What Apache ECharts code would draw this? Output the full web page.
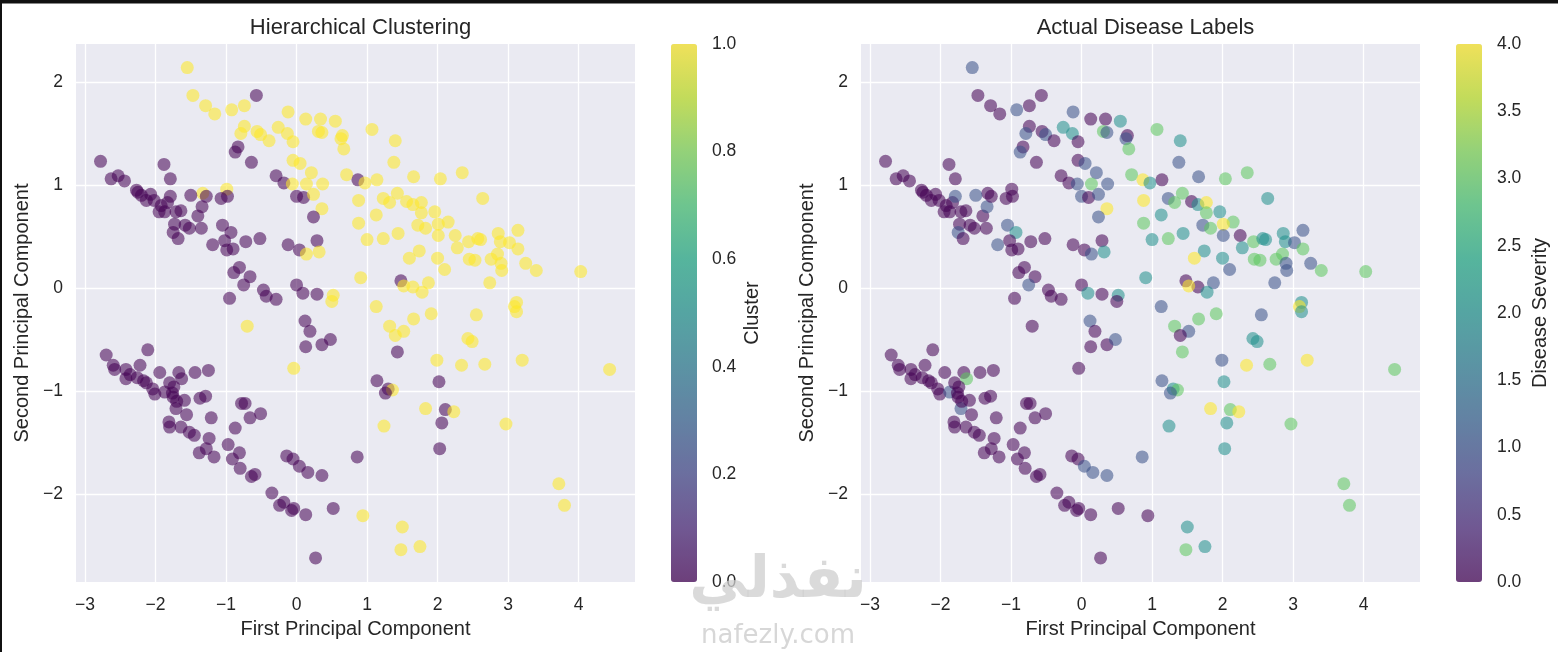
<!DOCTYPE html>
<html>
<head>
<meta charset="utf-8">
<script src="https://cdn.jsdelivr.net/npm/echarts@6/dist/echarts.min.js"></script>
<style>
html,body{margin:0;padding:0;background:#fff;}
#chart{width:1558px;height:652px;}
</style>
</head>
<body>
<div id="chart"></div>
<script>
// First principal component (x), second principal component (y)
const pcX = [
-1.55,-1.47,-1.29,-1.16,-0.92,-0.74,-0.57,-0.12,0.13,0.34,0.55,0.31,0.36,0.65,0.63,0.67,-0.26,-0.13,-0.05,-0.74,
-0.79,-0.56,-0.51,-0.39,-0.83,-0.87,-0.64,-0.05,0.05,0.21,-0.29,-0.18,-0.06,0.14,0.37,0.00,0.10,0.24,0.36,0.24,
0.71,-2.78,-2.63,-2.53,-2.44,-2.27,-2.20,-2.07,-2.02,-2.13,-1.92,-1.83,-1.79,-1.71,-1.64,-1.73,-1.75,-1.68,-1.52,-1.58,
-1.35,-1.40,-1.34,-1.33,-1.28,-1.50,-1.79,-1.88,-1.87,-2.25,-1.95,-0.99,-1.07,-0.98,-1.05,-0.93,-1.19,-1.02,-0.99,-0.90,
-0.72,-0.52,-0.12,0.04,0.14,0.29,0.32,-0.81,-0.89,-0.66,-0.75,-0.47,-0.43,-0.29,-0.95,0.00,0.09,0.29,0.52,0.50,
1.07,1.40,1.38,1.66,2.04,2.35,0.87,0.97,1.14,0.88,1.23,1.43,1.32,1.56,1.65,1.77,1.77,1.96,2.15,2.01,
1.72,1.83,2.01,2.25,2.64,1.13,0.88,1.00,1.23,1.44,1.74,1.60,2.00,2.10,2.28,2.44,2.57,2.61,2.45,2.53,
2.86,2.89,3.02,3.14,3.14,2.76,2.85,2.90,2.91,3.25,3.40,4.03,2.74,0.91,1.48,1.65,1.52,1.87,1.78,1.13,
3.12,3.09,3.12,1.66,1.91,2.55,1.32,1.52,1.40,1.43,2.43,2.49,1.99,2.34,2.67,3.20,4.44,1.14,1.30,1.36,
1.26,2.02,1.83,2.11,2.23,2.06,1.24,2.97,2.03,0.86,3.72,3.80,0.94,1.50,1.75,1.48,
-2.70,-2.60,-2.58,-2.11,-2.42,-2.42,-2.26,-2.22,-2.17,-2.13,-2.04,-2.01,-1.94,-1.87,-1.80,-1.67,-1.63,-1.74,-1.75,-1.71,
-1.59,-1.56,-1.44,-1.25,-1.37,-1.29,-1.21,-1.81,-1.80,-1.64,-1.52,-1.45,-1.24,-1.28,-1.38,-1.17,-0.97,-0.87,-0.78,-0.73,
-0.66,-0.51,-0.81,-0.91,-0.80,-0.64,-0.59,-0.35,-0.24,-0.18,-0.07,-0.04,0.13,0.52,0.27,-0.70,-0.04,0.12,0.19,0.13,
0.36,0.48,-0.14,-0.05,0.04,0.16,0.36,-1.76,-1.70,-2.36
];
const pcY = [
2.14,1.87,1.77,1.69,1.73,1.77,1.87,1.71,1.64,1.64,1.62,1.52,1.51,1.48,1.45,1.35,1.56,1.50,1.42,1.57,
1.50,1.52,1.49,1.43,1.37,1.32,1.22,1.24,1.21,1.12,1.09,1.02,1.01,1.01,1.01,0.89,0.88,0.91,0.77,0.69,
1.10,1.23,1.06,1.09,1.04,0.95,0.90,0.91,0.85,0.85,0.80,0.83,0.89,0.74,0.75,0.62,0.54,0.48,0.58,0.61,
0.58,0.70,0.79,0.92,0.89,0.90,1.06,1.20,0.74,0.93,0.74,0.96,0.87,0.89,0.61,0.54,0.42,0.46,0.37,0.38,
0.45,0.48,0.42,0.37,0.33,0.46,0.35,0.20,0.15,0.11,0.03,-0.02,-0.08,-0.11,-0.10,0.03,-0.05,-0.06,-0.07,-0.13,
1.54,1.43,1.22,1.08,1.06,1.12,1.05,1.02,1.05,0.85,0.87,0.92,0.83,0.84,0.81,0.83,0.73,0.74,0.64,0.62,
0.61,0.58,0.51,0.51,0.87,0.71,0.63,0.47,0.48,0.53,0.36,0.29,0.29,0.18,0.39,0.45,0.48,0.47,0.28,0.27,
0.53,0.45,0.44,0.56,0.38,0.28,0.33,0.24,0.17,0.24,0.17,0.16,0.05,0.10,0.07,0.01,0.02,0.05,-0.04,-0.18,
-0.14,-0.18,-0.23,-0.30,-0.25,-0.26,-0.37,-0.42,-0.46,-0.62,-0.49,-0.52,-0.70,-0.75,-0.74,-0.70,-0.79,-0.90,-0.98,-0.99,
-1.02,-0.91,-1.17,-1.18,-1.20,-1.31,-1.34,-1.32,-1.56,-1.64,-1.90,-2.11,-2.21,-2.32,-2.51,-2.54,
-0.65,-0.75,-0.79,-0.60,-0.79,-0.88,-0.87,-0.75,-0.90,-0.92,-0.98,-1.03,-0.82,-1.01,-0.92,-0.82,-0.88,-0.96,-1.06,-1.17,
-1.09,-1.23,-0.82,-0.80,-1.07,-1.05,-1.26,-1.30,-1.35,-1.35,-1.40,-1.43,-1.46,-1.56,-1.60,-1.64,-1.52,-1.36,-1.12,-1.12,
-1.26,-1.22,-1.60,-1.66,-1.75,-1.83,-1.81,-1.99,-2.11,-2.08,-2.16,-2.14,-2.20,-2.14,-2.62,-0.37,-0.78,-0.32,-0.42,-0.57,
-0.55,-0.50,-1.63,-1.66,-1.73,-1.79,-1.82,-1.02,-1.10,-0.84
];
// Hierarchical clustering label (0 / 1)
const clusterLabel = [
1,1,1,1,1,1,0,1,1,1,1,1,1,1,1,1,1,1,1,1,
1,1,1,1,0,0,0,1,1,1,0,0,1,1,1,0,0,1,1,0,
1,0,0,0,0,0,0,0,0,0,0,0,0,0,0,0,0,0,0,0,
0,0,0,1,0,0,0,0,0,0,0,1,0,0,0,0,0,0,0,0,
0,0,0,0,1,0,1,0,0,0,0,0,0,0,0,0,0,0,1,1,
1,1,1,1,1,1,0,1,1,1,1,1,1,1,1,1,1,1,1,1,
1,1,1,1,1,1,1,1,1,1,1,1,1,1,1,1,1,1,1,1,
1,1,1,1,1,1,1,1,1,1,1,1,1,1,0,1,1,1,1,1,
1,1,1,1,1,1,1,1,1,0,1,1,1,1,1,1,1,0,0,1,
0,0,1,0,1,0,1,1,0,0,1,1,1,1,1,1,
0,0,0,0,0,0,0,0,0,0,0,0,0,0,0,0,0,0,0,0,
0,0,0,0,0,0,0,0,0,0,0,0,0,0,0,0,0,0,0,0,
0,0,0,0,0,0,0,0,0,0,0,0,0,0,0,1,1,0,0,0,
0,0,0,0,0,0,0,0,0,0
];
// Actual disease severity (0 - 4)
const severity = [
1,0,0,0,1,0,0,1,0,0,2,3,1,0,1,3,2,2,0,0,
1,0,1,0,0,1,0,0,1,1,0,0,1,3,1,1,0,1,4,1,
3,0,0,0,0,0,0,0,0,0,0,0,1,0,0,0,1,0,0,0,
0,0,1,0,0,1,0,0,0,0,0,0,0,0,1,2,1,0,0,0,
0,0,0,0,1,0,2,0,0,0,1,0,0,0,0,0,2,0,2,0,
3,2,1,1,3,3,4,2,0,4,1,3,3,0,2,4,3,2,3,4,
1,3,1,0,2,2,3,2,3,2,2,4,2,1,2,3,2,2,3,3,
2,2,1,1,3,3,3,1,1,1,3,3,1,2,0,0,4,1,2,1,
2,4,2,3,3,1,3,1,0,3,2,2,1,4,3,4,3,1,2,3,
1,2,4,3,4,2,2,3,2,1,3,3,0,2,2,3,
0,0,0,0,0,0,0,0,0,0,0,0,0,1,0,0,3,0,0,1,
0,0,0,0,0,0,0,0,0,0,0,0,0,0,0,0,0,0,0,0,
0,0,0,0,0,0,0,0,0,0,0,0,0,0,0,0,0,1,0,0,
0,1,0,0,1,1,1,0,0,0
];
const xTicks = [-3, -2, -1, 0, 1, 2, 3, 4];
const yTicks = [-2, -1, 0, 1, 2];
const plotTitles = ['Hierarchical Clustering', 'Actual Disease Labels'];
const colorbarTitles = ['Cluster', 'Disease Severity'];

const clusterData = pcX.map((x, i) => [x, pcY[i], clusterLabel[i]]);
const severityData = pcX.map((x, i) => [x, pcY[i], severity[i]]);

const viridis = ['#440154','#482475','#414487','#355f8d','#2a788e','#21918c','#22a884','#44bf70','#7ad151','#bddf26','#fde725'];
function withAlpha(hex, a) {
  const r = parseInt(hex.slice(1,3),16), g = parseInt(hex.slice(3,5),16), b = parseInt(hex.slice(5,7),16);
  return 'rgba(' + r + ',' + g + ',' + b + ',' + a + ')';
}
const viridisA = viridis.map(c => withAlpha(c, 0.7));

const FONT = 'Liberation Sans, Arial, sans-serif';
const TXT = '#262626';
const TICK_FS = 17.5;
const NAME_FS = 20;

const mainGrids = [
  {left: 76, top: 44, width: 559, height: 538},
  {left: 861, top: 44, width: 559, height: 538}
];
const cbGrids = [
  {left: 671, top: 44, width: 26, height: 538},
  {left: 1456, top: 44, width: 26, height: 538}
];

function minusFmt(v) { return v < 0 ? '\u2212' + Math.abs(v) : String(v); }

function mainX(idx) {
  return {
    type: 'value', gridIndex: idx, min: -3.128, max: 4.80,
    axisLine: {show: false},
    axisTick: {show: false, customValues: xTicks},
    axisLabel: {customValues: xTicks, fontSize: TICK_FS, color: TXT, fontFamily: FONT, margin: 14, formatter: minusFmt},
    splitLine: {show: true, lineStyle: {color: '#ffffff', width: 1.3}},
    name: 'First Principal Component', nameLocation: 'middle', nameGap: 37,
    nameTextStyle: {fontSize: NAME_FS, color: TXT, fontFamily: FONT}
  };
}
function mainY(idx) {
  return {
    type: 'value', gridIndex: idx, min: -2.854, max: 2.369,
    axisLine: {show: false},
    axisTick: {show: false, customValues: yTicks},
    axisLabel: {customValues: yTicks, fontSize: TICK_FS, color: TXT, fontFamily: FONT, margin: 13, formatter: minusFmt},
    splitLine: {show: true, lineStyle: {color: '#ffffff', width: 1.3}},
    name: 'Second Principal Component', nameLocation: 'middle', nameGap: 44,
    nameTextStyle: {fontSize: NAME_FS, color: TXT, fontFamily: FONT}
  };
}
function cbY(idx, max, interval, title, gap) {
  return {
    type: 'value', gridIndex: idx, position: 'right', min: 0, max: max, interval: interval,
    axisLine: {show: false}, axisTick: {show: false}, splitLine: {show: false},
    axisLabel: {fontSize: TICK_FS, color: TXT, fontFamily: FONT, margin: 15, formatter: v => v.toFixed(1)},
    name: title, nameLocation: 'middle', nameRotate: 90, nameGap: gap,
    nameTextStyle: {fontSize: NAME_FS, color: TXT, fontFamily: FONT}
  };
}

const chart = echarts.init(document.getElementById('chart'), null, {renderer: 'canvas'});
chart.setOption({
  backgroundColor: '#ffffff',
  animation: false,
  title: [
    {text: plotTitles[0], left: 355.5, top: 12, textAlign: 'center',
     textStyle: {fontSize: 22, fontWeight: 'normal', color: TXT, fontFamily: FONT}},
    {text: plotTitles[1], left: 1140.5, top: 12, textAlign: 'center',
     textStyle: {fontSize: 22, fontWeight: 'normal', color: TXT, fontFamily: FONT}}
  ],
  grid: [
    Object.assign({backgroundColor: '#EAEAF2', show: true, borderWidth: 0}, mainGrids[0]),
    Object.assign({backgroundColor: '#EAEAF2', show: true, borderWidth: 0}, mainGrids[1]),
    cbGrids[0], cbGrids[1]
  ],
  xAxis: [
    mainX(0), mainX(1),
    {type: 'value', gridIndex: 2, min: 0, max: 1, show: false},
    {type: 'value', gridIndex: 3, min: 0, max: 1, show: false}
  ],
  yAxis: [
    mainY(0), mainY(1),
    cbY(2, 1, 0.2, colorbarTitles[0], 45),
    cbY(3, 4, 0.5, colorbarTitles[1], 48)
  ],
  visualMap: [
    {type: 'continuous', seriesIndex: 0, dimension: 2, min: 0, max: 1, calculable: false,
     orient: 'vertical', left: 671, top: 44, itemWidth: 26, itemHeight: 538, padding: 0,
     text: null, showLabel: false, inRange: {color: viridisA}},
    {type: 'continuous', seriesIndex: 1, dimension: 2, min: 0, max: 4, calculable: false,
     orient: 'vertical', left: 1456, top: 44, itemWidth: 26, itemHeight: 538, padding: 0,
     text: null, showLabel: false, inRange: {color: viridisA}}
  ],
  series: [
    {type: 'scatter', xAxisIndex: 0, yAxisIndex: 0, data: clusterData, symbolSize: 13,
     itemStyle: {borderWidth: 0}},
    {type: 'scatter', xAxisIndex: 1, yAxisIndex: 1, data: severityData, symbolSize: 13,
     itemStyle: {borderWidth: 0}}
  ],
  graphic: [
    {type: 'rect', shape: {x: 0, y: 0, width: 1558, height: 3.5}, style: {fill: '#111111'}, z: 200},
    {type: 'rect', shape: {x: 0, y: 0, width: 2, height: 652}, style: {fill: '#111111'}, z: 200},
    {type: 'text', x: 778, y: 582, z: 150,
     style: {text: '\u0646\u0641\u0630\u0644\u064a', fontSize: 58, fontWeight: 'bold',
       fontFamily: 'DejaVu Sans', fill: 'rgba(205,205,205,0.75)', align: 'center', verticalAlign: 'middle'}},
    {type: 'text', x: 778, y: 636, z: 150,
     style: {text: 'nafezly.com', fontSize: 26, fontFamily: 'DejaVu Sans',
       fill: 'rgba(205,205,205,0.8)', align: 'center', verticalAlign: 'middle'}}
  ]
});
</script>
</body>
</html>
